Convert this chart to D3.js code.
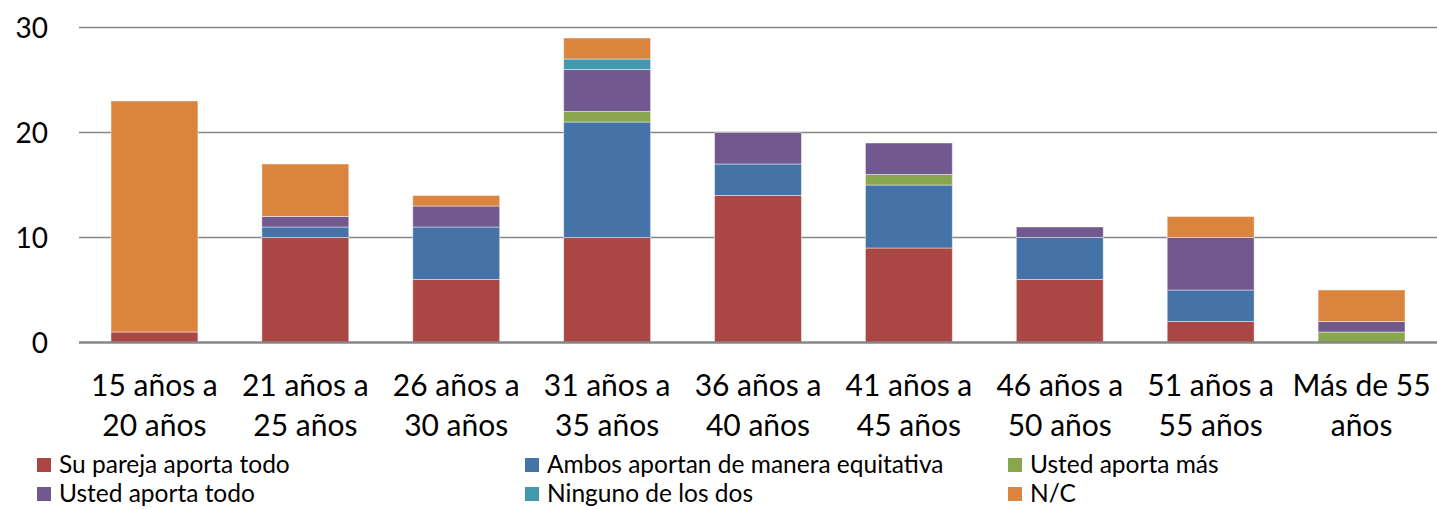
<!DOCTYPE html>
<html><head><meta charset="utf-8">
<script src="https://cdn.jsdelivr.net/npm/d3@7"></script>
<style>body{margin:0;background:#fff}svg{display:block;font-family:Lato,"Open Sans",sans-serif}</style>
</head><body><svg id="c" width="1437" height="509"></svg>
<script>
const categories = [["15 años a","20 años"],["21 años a","25 años"],["26 años a","30 años"],["31 años a","35 años"],["36 años a","40 años"],["41 años a","45 años"],["46 años a","50 años"],["51 años a","55 años"],["Más de 55","años"]];
const seriesNames = ["Su pareja aporta todo","Ambos aportan de manera equitativa","Usted aporta más","Usted aporta todo","Ninguno de los dos","N/C"];
const colors = ["#AA4643","#4572A7","#89A54E","#71588F","#4198AF","#DB843D"];
const suParejaTodo = [1,10,6,10,14,9,6,2,0];
const ambos = [0,1,5,11,3,6,4,3,0];
const ustedMas = [0,0,0,1,0,1,0,0,1];
const ustedTodo = [0,1,2,4,3,3,1,5,1];
const ninguno = [0,0,0,1,0,0,0,0,0];
const nc = [22,5,1,2,0,0,0,2,3];
const yTicks = [0,10,20,30];

(function(){
const seriesVals = [suParejaTodo, ambos, ustedMas, ustedTodo, ninguno, nc];
const rows = categories.map((c,i)=>{const r={cat:i}; seriesNames.forEach((s,j)=>r[s]=seriesVals[j][i]); return r;});
const stack = d3.stack().keys(seriesNames)(rows);

const svg = d3.select("#c");
const pl=79, pr=1437, pt=27.5, pb=342.5;
const x = d3.scaleBand().domain(d3.range(categories.length)).range([pl,pr]).paddingInner(0.424).paddingOuter(0.212);
const y = d3.scaleLinear().domain([0,30]).range([pb,pt]);

svg.append("g").selectAll("line").data(yTicks.filter(t=>t>0)).join("line")
  .attr("x1",pl).attr("x2",pr).attr("y1",d=>y(d)).attr("y2",d=>y(d))
  .attr("stroke","#868686").attr("stroke-width",1.5);

svg.append("g").selectAll("g").data(stack).join("g").attr("fill",(d,i)=>colors[i])
  .selectAll("rect").data(d=>d.filter(p=>p[1]-p[0]>0)).join("rect")
  .attr("x",d=>x(d.data.cat)).attr("width",x.bandwidth())
  .attr("y",d=>y(d[1])).attr("height",d=>y(d[0])-y(d[1]))
  .attr("stroke","rgba(255,255,255,0.45)").attr("stroke-width",1);

svg.append("line").attr("x1",pl).attr("x2",pr).attr("y1",y(0)).attr("y2",y(0))
  .attr("stroke","#868686").attr("stroke-width",2.5);

const yAxis = d3.axisLeft(y).tickValues(yTicks).tickSize(0).tickPadding(0);
const ya = svg.append("g").attr("transform","translate(48,0)").call(yAxis);
ya.select(".domain").remove();
ya.selectAll("text").attr("font-size",28).attr("fill","#000").attr("font-family","Lato,sans-serif").attr("dy","0.35em");

const xl = svg.append("g").selectAll("text").data(categories).join("text")
  .attr("x",(d,i)=>x(i)+x.bandwidth()/2).attr("y",396)
  .attr("text-anchor","middle").attr("font-size",30).attr("fill","#000");
xl.selectAll("tspan").data(d=>d).join("tspan")
  .attr("x",function(){return this.parentNode.getAttribute("x");})
  .attr("dy",(d,i)=>i?40:0).text(d=>d);

const legPos = [[37,465],[525,465],[1008,465],[37,494],[525,494],[1008,494]];
const leg = svg.append("g").selectAll("g").data(seriesNames).join("g")
  .attr("transform",(d,i)=>`translate(${legPos[i][0]},${legPos[i][1]})`);
leg.append("rect").attr("x",0).attr("y",-7).attr("width",14).attr("height",14).attr("fill",(d,i)=>colors[i]);
leg.append("text").attr("x",22).attr("y",0).attr("dy","0.33em").attr("font-size",24.5).attr("fill","#000").text(d=>d);
})();
</script></body></html>
